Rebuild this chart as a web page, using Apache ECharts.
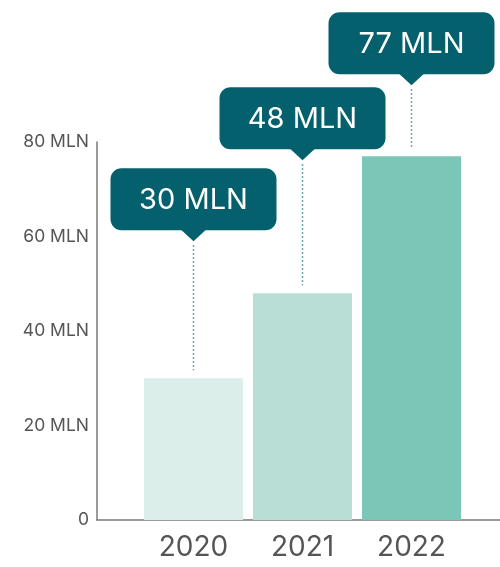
<!DOCTYPE html>
<html>
<head>
<meta charset="utf-8">
<script src="https://cdn.jsdelivr.net/npm/echarts@6/dist/echarts.min.js"></script>
<style>
html,body{margin:0;padding:0;background:#fff;}
#chart{width:500px;height:567px;}
</style>
</head>
<body>
<div id="chart"></div>
<script>
// ---- data ----
const categories = ['2020', '2021', '2022'];
const values = [30, 48, 77];
const unit = 'MLN';
const yTicks = [0, 20, 40, 60, 80];

// ---- styles ----
const barColors = ['#dbeee9', '#b8ded6', '#7bc6b6'];
const calloutColor = '#04606d';
const calloutLift = [137, 133, 71];
const font = 'Inter, Lato, sans-serif';

const chart = echarts.init(document.getElementById('chart'));

const yMin = yTicks[0], yMax = yTicks[yTicks.length - 1], yStep = yTicks[1] - yTicks[0];

chart.setOption({
  animation: false,
  grid: [
    { left: 97, right: 0, top: 142, bottom: 47 },
    { left: 139, right: 34, top: 142, bottom: 47 }
  ],
  xAxis: [
    { gridIndex: 0, type: 'value', min: 0, max: 1,
      axisLine: { show: true, lineStyle: { color: '#7a7a7a', width: 1.5 } },
      axisTick: { show: false }, axisLabel: { show: false }, splitLine: { show: false } },
    { gridIndex: 1, type: 'category', data: categories,
      axisLine: { show: false }, axisTick: { show: false },
      axisLabel: { color: '#555', fontSize: 28, fontFamily: font, margin: 14 } }
  ],
  yAxis: [
    { gridIndex: 0, type: 'value', min: yMin, max: yMax, interval: yStep,
      axisLine: { show: true, lineStyle: { color: '#7a7a7a', width: 1.5 } },
      axisTick: { show: false }, splitLine: { show: false },
      axisLabel: { color: '#555', fontSize: 17.5, fontFamily: font, margin: 8,
        formatter: v => v === 0 ? '0' : v + ' ' + unit } },
    { gridIndex: 1, type: 'value', min: yMin, max: yMax, interval: yStep, show: false,
      splitLine: { show: false } }
  ],
  series: [
    {
      type: 'bar', xAxisIndex: 1, yAxisIndex: 1, barWidth: 99,
      data: values.map((v, i) => ({ value: v, itemStyle: { color: barColors[i] } }))
    },
    {
      type: 'custom', xAxisIndex: 1, yAxisIndex: 1, clip: false, z: 5,
      data: values.map((v, i) => [i, v]),
      renderItem: function (params, api) {
        const i = params.dataIndex;
        const p = api.coord([api.value(0), api.value(1)]);
        const x = p[0], top = p[1];
        const tip = top - calloutLift[i];
        const bw = 166, bh = 62, th = 11, hw = 13;
        const boxBottom = tip - th;
        return {
          type: 'group',
          children: [
            { type: 'line', shape: { x1: x, y1: tip + 4, x2: x, y2: top - 8 },
              style: { stroke: '#3f8c9a', lineWidth: 1.5, lineDash: [1.5, 2.5] } },
            { type: 'polygon', shape: { points: [[x - hw, boxBottom - 1], [x + hw, boxBottom - 1], [x, tip]] },
              style: { fill: calloutColor } },
            { type: 'rect', shape: { x: x - bw / 2, y: boxBottom - bh, width: bw, height: bh, r: 11 },
              style: { fill: calloutColor } },
            { type: 'text', style: { text: values[i] + ' ' + unit, x: x, y: boxBottom - bh / 2 + 1,
              fill: '#fff', fontSize: 29, fontFamily: font, align: 'center', verticalAlign: 'middle' } }
          ]
        };
      }
    }
  ]
});
</script>
</body>
</html>
